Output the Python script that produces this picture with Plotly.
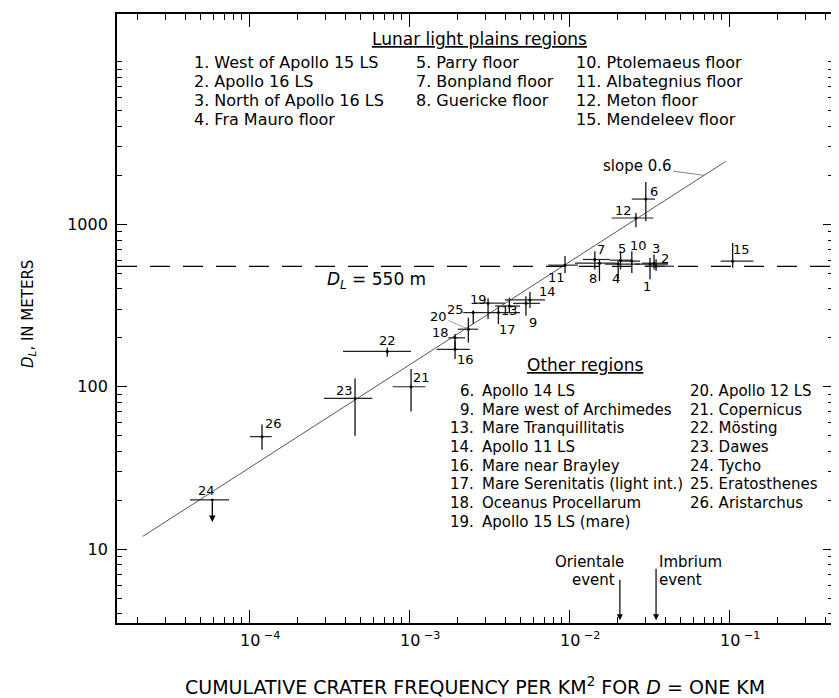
import numpy as np
import plotly.graph_objects as go

# ---------------- data ----------------
point_ids = ["1", "2", "3", "4", "5", "6", "7", "8", "9", "10", "11", "12", "13",
             "14", "15", "16", "17", "18", "19", "20", "21", "22", "23", "24", "25", "26"]
# cumulative crater frequency per km^2 for D = 1 km (centre, low, high)
freq = [0.0321, 0.0350, 0.0340, 0.0203, 0.0210, 0.0302, 0.0145, 0.0155, 0.00538, 0.0247,
        0.00944, 0.0262, 0.00424, 0.0057, 0.1054, 0.00194, 0.00362, 0.00194, 0.00312, 0.00235,
        0.00103, 0.000731, 0.00046, 5.9e-5, 0.00252, 0.0001206]
freq_lo = [0.0259, 0.0297, 0.0286, 0.0168, 0.0180, 0.0247, 0.0122, 0.0109, 0.00447, 0.0201,
           0.0074, 0.0185, 0.00345, 0.00397, 0.0887, 0.00149, 0.00299, 0.00176, 0.00258, 0.00202,
           0.00079, 0.000387, 0.000294, 4.28e-5, 0.00218, 0.0001015]
freq_hi = [0.0416, 0.0453, 0.0416, 0.0278, 0.0248, 0.0345, 0.0180, 0.0199, 0.00659, 0.0278,
           0.01138, 0.0337, 0.00494, 0.00708, 0.142, 0.0024, 0.00494, 0.00224, 0.00397, 0.0027,
           0.001265, 0.00103, 0.00059, 7.5e-5, 0.00299, 0.0001387]
# D_L in metres (centre, low, high)
dl = [569, 552, 576, 569, 601, 1429, 607, 576, 326, 593,
      560, 1093, 314, 342, 593, 170, 286, 200, 327, 226,
      100, 165, 84.7, 20.1, 286, 49.3]
dl_lo = [458, 515, 527, 458, 527, 1043, 527, 447, 273, 502,
         502, 959, 286, 305, 540, 148, 243, 171, 261, 187,
         70.5, 153, 50, 20.1, 244, 40.9]
dl_hi = [621, 610, 652, 593, 682, 1818, 682, 610, 361, 682,
         637, 1172, 353, 383, 768, 191, 314, 211, 350, 266,
         128.8, 174, 112.5, 20.1, 295, 58.5]
# Tycho (24) upper-limit arrow end
tycho_arrow_end = 14.7

# slope 0.6 fit line end points
fit_x = [2.17e-5, 0.0953]
fit_y = [12.0, 2436]

dl_limit = 550  # D_L = 550 m

# stratigraphic events
event_names = ["Orientale", "Imbrium"]
event_freq = [0.0208, 0.0350]

x_tick_vals = [1e-4, 1e-3, 1e-2, 1e-1]
x_tick_exp = ["−4", "−3", "−2", "−1"]
y_tick_vals = [10, 100, 1000]
y_tick_text = ["10", "100", "1000"]

light_col1 = ["1. West of Apollo 15 LS", "2. Apollo 16 LS", "3. North of Apollo 16 LS", "4. Fra Mauro floor"]
light_col2 = ["5. Parry floor", "7. Bonpland floor", "8. Guericke floor"]
light_col3 = ["10. Ptolemaeus floor", "11. Albategnius floor", "12. Meton floor", "15. Mendeleev floor"]
other_left_nums = ["6.", "9.", "13.", "14.", "16.", "17.", "18.", "19."]
other_left_names = ["Apollo 14 LS", "Mare west of Archimedes", "Mare Tranquillitatis", "Apollo 11 LS",
                    "Mare near Brayley", "Mare Serenitatis (light int.)", "Oceanus Procellarum",
                    "Apollo 15 LS (mare)"]
other_right = ["20. Apollo 12 LS", "21. Copernicus", "22. Mösting", "23. Dawes", "24. Tycho",
               "25. Eratosthenes", "26. Aristarchus"]

# ---------------- style / layout ----------------
FONT = "DejaVu Sans"
PAGE_W, PAGE_H = 839, 698
OFF = 8                      # browser body margin
L, R, T, B = 117, 833, 12, 623   # plot area in page pixels
x_range = [-4.825, -0.35]
y_range = [0.546, 4.294]

# label offsets (px, right / down) for the point numbers
label_dx = [-3, 9, 2, -2, 1, 8, 6, -6, 7, 7, -9, -12, 0, 18, 9, 10, 9, -15, -10, -30, 10, 0, -11, -6, -18, 11]
label_dy = [22, -8, -15, 14, -12, -8, -10, 15, 19, -16, 12, -7, 4, -8, -12, 10, 17, -5, -4, -13, -9, -11, -8, -9, -3, -13]


def px(xp):
    return (xp - L) / (R - L)


def py(yp):
    return (B - yp) / (B - T)


def text_ann(x, y, text, font, xanchor="center", xref="paper", **kw):
    d = dict(x=x, y=y, xref=xref, yref="paper", xanchor=xanchor, yanchor="middle",
             text=text, showarrow=False, font=font)
    d.update(kw)
    return d


fig = go.Figure()

# slope line
fig.add_trace(go.Scatter(x=fit_x, y=fit_y, mode="lines",
                         line=dict(color="#555555", width=1), hoverinfo="skip"))
# dashed D_L line
fig.add_trace(go.Scatter(x=[10 ** x_range[0], 10 ** x_range[1]], y=[dl_limit, dl_limit], mode="lines",
                         line=dict(color="black", width=1.2, dash="20px,13px"), hoverinfo="skip"))

f = np.array(freq)
d = np.array(dl)
fig.add_trace(go.Scatter(
    x=f, y=d, mode="markers",
    marker=dict(color="black", size=3),
    error_x=dict(type="data", symmetric=False, array=np.array(freq_hi) - f,
                 arrayminus=f - np.array(freq_lo), width=0, thickness=1.2, color="#222222"),
    error_y=dict(type="data", symmetric=False, array=np.array(dl_hi) - d,
                 arrayminus=d - np.array(dl_lo), width=0, thickness=1.3, color="#111111"),
    hoverinfo="skip"))

ann = []
for i, pid in enumerate(point_ids):
    if pid == "20":
        ann.append(dict(x=np.log10(freq[i]), y=np.log10(dl[i]), xref="x", yref="y", text=pid,
                        showarrow=True, arrowhead=0, arrowwidth=0.7, arrowcolor="#777777",
                        ax=label_dx[i], ay=label_dy[i], font=dict(family=FONT, size=13, color="black")))
    else:
        ann.append(dict(x=np.log10(freq[i]), y=np.log10(dl[i]), xref="x", yref="y", text=pid,
                        showarrow=False, xshift=label_dx[i], yshift=-label_dy[i],
                        xanchor="center", yanchor="middle",
                        font=dict(family=FONT, size=13, color="black")))

# Tycho downward arrow
i24 = point_ids.index("24")
ann.append(dict(x=np.log10(freq[i24]), y=np.log10(tycho_arrow_end), xref="x", yref="y",
                ax=np.log10(freq[i24]), ay=np.log10(dl[i24]), axref="x", ayref="y",
                showarrow=True, arrowhead=2, arrowsize=1, arrowwidth=1.3, arrowcolor="black", text=""))

# slope annotation
sx = np.log10(0.0698)
sy = np.log10(fit_y[0]) + (np.log10(fit_y[1]) - np.log10(fit_y[0])) / (np.log10(fit_x[1]) - np.log10(fit_x[0])) * (sx - np.log10(fit_x[0]))
ann.append(dict(x=sx, y=sy, xref="x", yref="y", text="slope 0.6", showarrow=True, arrowhead=0,
                arrowwidth=0.8, arrowcolor="#666666", ax=-67, ay=-9,
                font=dict(family=FONT, size=15, color="black")))

# D_L label
ann.append(dict(x=px(325), y=np.log10(dl_limit), xref="paper", yref="y", xanchor="left", yanchor="middle",
                yshift=-14, text="<i>D<sub>L</sub></i> = 550 m", showarrow=False,
                font=dict(family=FONT, size=17, color="black")))

# events
ef15 = dict(family=FONT, size=15, color="black")
ev_top = [6.64, 7.76]
for name, ef, top in zip(event_names, event_freq, ev_top):
    ann.append(dict(x=np.log10(ef), y=np.log10(3.66), ax=np.log10(ef), ay=np.log10(top),
                    xref="x", yref="y", axref="x", ayref="y", text="", showarrow=True,
                    arrowhead=2, arrowsize=1, arrowwidth=1.2, arrowcolor="black"))
    if name == "Orientale":
        ann.append(text_ann(np.log10(ef), py(561.7), name, ef15, xanchor="right", xref="x", xshift=6))
        ann.append(text_ann(np.log10(ef), py(580), "event", ef15, xanchor="right", xref="x", xshift=-3))
    else:
        ann.append(text_ann(np.log10(ef), py(561.7), name, ef15, xanchor="left", xref="x", xshift=1))
        ann.append(text_ann(np.log10(ef), py(580), "event", ef15, xanchor="left", xref="x", xshift=1))

# legend blocks
lf = dict(family=FONT, size=16, color="black")
lf2 = dict(family=FONT, size=15, color="black")
hf = dict(family=FONT, size=17, color="black")
ann.append(text_ann(px(480), py(36.7), "<u>Lunar light plains regions</u>", hf))
for col, xpos in [(light_col1, 192), (light_col2, 413.7), (light_col3, 574)]:
    for j, t in enumerate(col):
        ann.append(text_ann(px(xpos), py(61 + 19 * j), t, lf, xanchor="left"))
ann.append(text_ann(px(585), py(364), "<u>Other regions</u>", hf))
for j, (n, t) in enumerate(zip(other_left_nums, other_left_names)):
    ann.append(text_ann(px(476), py(390 + 18.8 * j), n, lf2, xanchor="right"))
    ann.append(text_ann(px(480), py(390 + 18.8 * j), t, lf2, xanchor="left"))
for j, t in enumerate(other_right):
    ann.append(text_ann(px(688), py(390 + 18.8 * j), t, lf2, xanchor="left"))

# x tick labels
for v, e in zip(x_tick_vals, x_tick_exp):
    ann.append(text_ann(np.log10(v), py(640), "10<sup> " + e + "</sup>",
                        dict(family=FONT, size=16, color="black"), xanchor="left", xref="x", xshift=-11))

# axis titles
ann.append(text_ann(0.5, py(686), "CUMULATIVE CRATER FREQUENCY PER KM<sup>2</sup> FOR <i>D</i> = ONE KM",
                    dict(family=FONT, size=19, color="black")))
ann.append(text_ann(px(28), py(313), "<i>D<sub>L</sub></i>, IN METERS",
                    dict(family=FONT, size=15, color="black"), textangle=-90))

fig.update_layout(
    width=PAGE_W - OFF, height=PAGE_H - OFF,
    margin=dict(l=L - OFF, r=PAGE_W - R, t=T - OFF, b=PAGE_H - B, pad=0),
    paper_bgcolor="white", plot_bgcolor="white", showlegend=False,
    annotations=ann,
    xaxis=dict(type="log", range=x_range, showgrid=False, zeroline=False,
               showline=True, linecolor="black", linewidth=1.6, mirror="allticks",
               ticks="inside", ticklen=13, tickwidth=1.2, tickcolor="black",
               tickmode="array", tickvals=x_tick_vals, showticklabels=False,
               minor=dict(ticks="inside", ticklen=6, tickwidth=1, tickcolor="black", dtick="D1", showgrid=False)),
    yaxis=dict(type="log", range=y_range, showgrid=False, zeroline=False,
               showline=True, linecolor="black", linewidth=1.8, mirror="allticks",
               ticks="inside", ticklen=10, tickwidth=1.2, tickcolor="black",
               tickmode="array", tickvals=y_tick_vals, ticktext=y_tick_text,
               tickfont=dict(family=FONT, size=16, color="black"), ticklabelstandoff=4,
               minor=dict(ticks="inside", ticklen=5, tickwidth=1, tickcolor="black", dtick="D1", showgrid=False)),
)

fig.write_html("out.html")
